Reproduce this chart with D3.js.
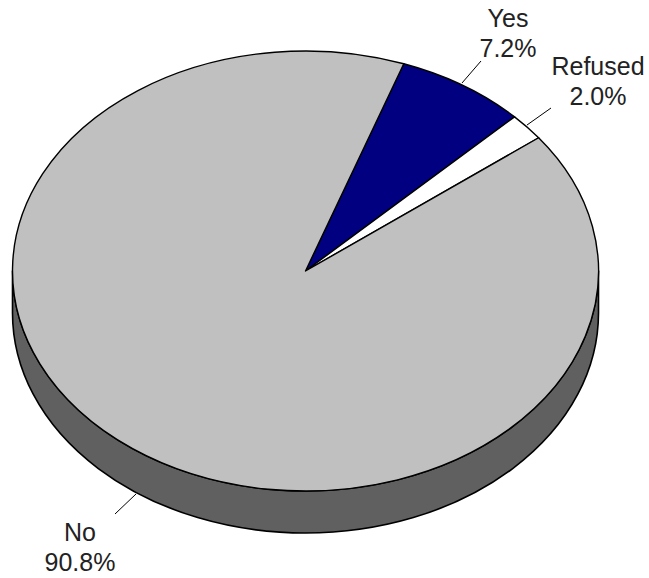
<!DOCTYPE html>
<html>
<head>
<meta charset="utf-8">
<script src="https://cdn.jsdelivr.net/npm/d3@7"></script>
<style>
  html, body { margin: 0; padding: 0; background: #fff; }
  svg { display: block; }
  text { font-family: "Liberation Sans", Arial, sans-serif; font-size: 25px; fill: #222; }
</style>
</head>
<body>
<svg id="chart" width="649" height="578"></svg>
<script>
// Survey answers, in clockwise order starting from the first slice
const categories = ["Yes", "Refused", "No"];
const values = [7.2, 2.0, 90.8];
const valueLabels = ["7.2%", "2.0%", "90.8%"];
const colors = ["#000080", "#FFFFFF", "#C0C0C0"];
const sideColor = "#606060";

const width = 649, height = 578;
const cx = 305.5, cy = 271;      // centre of the top face
const rx = 293, ry = 220;        // radii of the elliptical top face
const depth = 42;                // thickness of the disc
const startDeg = 19.6;           // angle (clockwise from 12 o'clock) where the first slice begins

const svg = d3.select("#chart");

// Side wall of the disc (only the front half is visible)
svg.append("path")
  .attr("d", `M${cx + rx},${cy} A${rx},${ry} 0 0 1 ${cx - rx},${cy} L${cx - rx},${cy + depth} A${rx},${ry} 0 0 0 ${cx + rx},${cy + depth} Z`)
  .attr("fill", sideColor)
  .attr("stroke", "#000")
  .attr("stroke-width", 1.6)
  .attr("stroke-linejoin", "round");

// Top face: circular pie squashed vertically into an ellipse
const start = startDeg * Math.PI / 180;
const pie = d3.pie().sort(null).value(d => d.value)
  .startAngle(start).endAngle(start + 2 * Math.PI);
const data = categories.map((c, i) => ({ name: c, value: values[i], label: valueLabels[i], color: colors[i] }));
const arcs = pie(data);
const arc = d3.arc().innerRadius(0).outerRadius(rx);

const topFace = svg.append("g")
  .attr("transform", `translate(${cx},${cy}) scale(1,${ry / rx})`);

topFace.selectAll("path")
  .data(arcs)
  .join("path")
  .attr("d", arc)
  .attr("fill", d => d.data.color)
  .attr("stroke", "#000")
  .attr("stroke-width", 1.4)
  .attr("stroke-linejoin", "round")
  .attr("vector-effect", "non-scaling-stroke");

// Labels with leader lines
const labelSpec = {
  "Yes":     { tx: 508, ty: 27,  l1: [462, 83],  l2: [481, 61] },
  "Refused": { tx: 598, ty: 75,  l1: [527, 125], l2: [551, 108] },
  "No":      { tx: 80,  ty: 541, l1: [115, 514], l2: [136, 494] }
};

const labels = svg.append("g");
arcs.forEach(a => {
  const s = labelSpec[a.data.name];
  labels.append("line")
    .attr("x1", s.l1[0]).attr("y1", s.l1[1])
    .attr("x2", s.l2[0]).attr("y2", s.l2[1])
    .attr("stroke", "#000").attr("stroke-width", 1);
  const t = labels.append("text")
    .attr("text-anchor", "middle")
    .attr("x", s.tx).attr("y", s.ty);
  t.append("tspan").attr("x", s.tx).text(a.data.name);
  t.append("tspan").attr("x", s.tx).attr("dy", 30).text(a.data.label);
});
</script>
</body>
</html>
